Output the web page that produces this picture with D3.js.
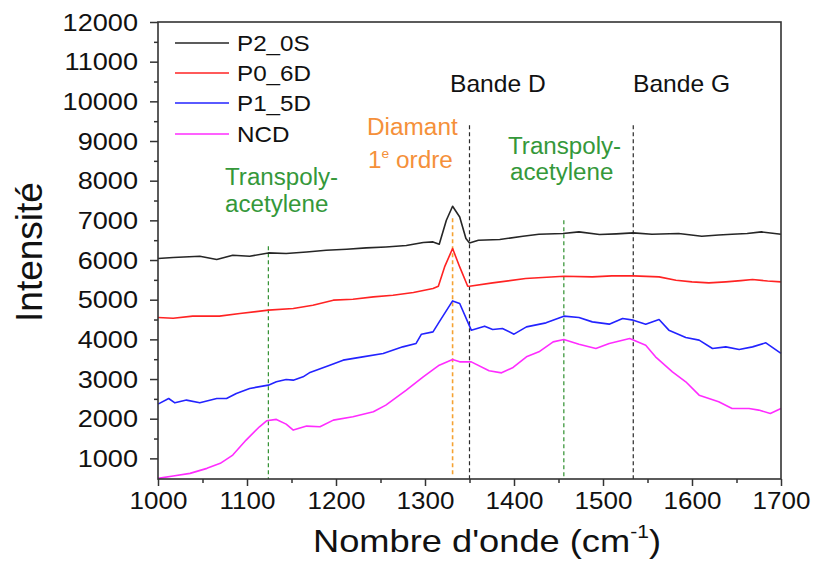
<!DOCTYPE html>
<html>
<head>
<meta charset="utf-8">
<script src="https://cdn.jsdelivr.net/npm/d3@7"></script>
<style>
  html, body { margin: 0; padding: 0; background: #fff; }
  svg { display: block; font-family: "Liberation Sans", Arial, sans-serif; }
</style>
</head>
<body>
<svg id="chart" width="816" height="572"></svg>
<script>
// Raman spectra: wavenumber (cm-1) and intensity for each sample
const p2Wave = [1000,1017,1047,1066,1084,1103,1124,1144,1167,1189,1212,1234,1256,1279,1298,1309,1316,1324,1331,1339,1346,1350,1360,1384,1410,1428,1455,1473,1496,1515,1534,1555,1585,1611,1630,1645,1662,1678,1700];
const p2Int  = [6038,6063,6096,6013,6121,6096,6179,6164,6204,6247,6272,6305,6330,6365,6441,6457,6398,7003,7356,7086,6542,6431,6499,6517,6600,6650,6667,6709,6643,6660,6684,6650,6667,6600,6630,6650,6670,6709,6650];

const p0Wave = [1000,1017,1039,1069,1092,1124,1152,1174,1197,1219,1242,1264,1287,1309,1315,1322,1331,1339,1348,1350,1376,1413,1456,1488,1510,1534,1563,1582,1600,1619,1638,1655,1668,1685,1700];
const p0Int  = [4552,4534,4585,4585,4652,4736,4778,4862,4988,5013,5071,5113,5182,5282,5340,5826,6290,5826,5340,5340,5423,5534,5592,5575,5600,5600,5575,5491,5450,5423,5449,5480,5509,5470,5449];

const p1Wave = [1000,1012,1019,1032,1047,1066,1077,1088,1103,1124,1133,1144,1152,1163,1170,1193,1208,1230,1253,1275,1290,1296,1309,1316,1331,1339,1352,1367,1376,1387,1400,1414,1436,1456,1473,1488,1507,1522,1534,1548,1563,1574,1593,1608,1623,1638,1653,1668,1683,1700];
const p1Int  = [2368,2509,2400,2469,2400,2509,2509,2637,2763,2846,2930,2990,2972,3055,3156,3350,3476,3559,3645,3811,3897,4131,4189,4441,4970,4904,4232,4333,4250,4275,4131,4315,4416,4585,4552,4441,4383,4527,4484,4383,4501,4232,4048,3980,3771,3811,3746,3811,3912,3645];

const ncdWave = [1000,1017,1036,1055,1070,1084,1099,1114,1122,1133,1144,1152,1167,1182,1197,1219,1242,1256,1279,1298,1316,1331,1339,1352,1372,1386,1399,1414,1428,1444,1456,1473,1492,1507,1530,1548,1559,1578,1593,1608,1630,1645,1664,1675,1688,1700];
const ncdInt  = [496,554,622,748,874,1083,1461,1796,1947,1982,1864,1713,1814,1796,1965,2048,2174,2343,2720,3055,3350,3494,3433,3433,3207,3156,3292,3559,3685,3937,3998,3879,3771,3897,4023,3854,3559,3181,2930,2594,2426,2259,2259,2217,2133,2259];

const seriesNames  = ["P2_0S", "P0_6D", "P1_5D", "NCD"];
const seriesColors = ["#262626", "#ff2323", "#2323ff", "#ff2cff"];
const seriesWaves  = [p2Wave, p0Wave, p1Wave, ncdWave];
const seriesInts   = [p2Int, p0Int, p1Int, ncdInt];

const xMajorTicks = [1000,1100,1200,1300,1400,1500,1600,1700];
const xMinorTicks = [1050,1150,1250,1350,1450,1550,1650];
const yMajorTicks = [1000,2000,3000,4000,5000,6000,7000,8000,9000,10000,11000,12000];
const yMinorTicks = [1500,2500,3500,4500,5500,6500,7500,8500,9500,10500,11500];

// Band markers: wavenumber, colour, top of the dashed line (intensity)
const markerWaves  = [1124, 1331, 1350, 1456, 1534];
const markerColors = ["#2f8f2f", "#f5a232", "#2a2a2a", "#2f8f2f", "#2a2a2a"];
const markerTops   = [6350, 7050, 9400, 7000, 9400];

const svg = d3.select("#chart");
const x = d3.scaleLinear().domain([1000, 1700]).range([158, 781]);
const y = d3.scaleLinear().domain([480, 12000]).range([479, 22]);

// dashed marker lines
markerWaves.forEach((w, i) => {
  svg.append("line")
    .attr("x1", x(w)).attr("x2", x(w))
    .attr("y1", y(markerTops[i])).attr("y2", y(i === 1 ? 540 : 480))
    .attr("stroke", markerColors[i])
    .attr("stroke-width", i === 1 ? 1.6 : 1.2)
    .attr("stroke-dasharray", "4,3");
});

// spectra
const line = d3.line().x(d => x(d[0])).y(d => y(d[1]));
seriesNames.forEach((name, i) => {
  const pts = seriesWaves[i].map((w, k) => [w, seriesInts[i][k]]);
  svg.append("path")
    .datum(pts)
    .attr("fill", "none")
    .attr("stroke", seriesColors[i])
    .attr("stroke-width", 1.6)
    .attr("stroke-linejoin", "round")
    .attr("d", line);
});

// frame
svg.append("rect")
  .attr("x", x(1000)).attr("y", y(12000))
  .attr("width", x(1700) - x(1000)).attr("height", y(480) - y(12000))
  .attr("fill", "none").attr("stroke", "#333").attr("stroke-width", 1.6);

// axes
function styleAxis(g) {
  g.select(".domain").remove();
  g.selectAll(".tick line").attr("stroke", "#333").attr("stroke-width", 1.5);
  g.selectAll(".tick text").attr("fill", "#111").attr("font-family", "Liberation Sans, Arial, sans-serif");
}
const xAxis = svg.append("g").attr("transform", `translate(0,${y(480)})`)
  .call(d3.axisBottom(x).tickValues(xMajorTicks).tickSize(7).tickPadding(7).tickFormat(d3.format("d")))
  .call(styleAxis);
xAxis.selectAll(".tick text").attr("font-size", 23);
svg.append("g").attr("transform", `translate(0,${y(480)})`)
  .call(d3.axisBottom(x).tickValues(xMinorTicks).tickSize(4).tickFormat(""))
  .call(styleAxis);

const yAxis = svg.append("g").attr("transform", `translate(${x(1000)},0)`)
  .call(d3.axisLeft(y).tickValues(yMajorTicks).tickSize(8).tickPadding(12).tickFormat(d3.format("d")))
  .call(styleAxis);
yAxis.selectAll(".tick text").attr("font-size", 24).attr("dy", "0.34em");
svg.append("g").attr("transform", `translate(${x(1000)},0)`)
  .call(d3.axisLeft(y).tickValues(yMinorTicks).tickSize(4).tickFormat(""))
  .call(styleAxis);

// widen tick labels slightly
svg.selectAll(".tick text").each(function () {
  const t = d3.select(this);
  if (!t.text()) return;
  t.attr("textLength", this.getComputedTextLength() * 1.13).attr("lengthAdjust", "spacingAndGlyphs");
});

// text helper: horizontally stretched label
function label(px, py, size, color, anchor, sx, build) {
  const g = svg.append("g").attr("transform", `translate(${px},${py}) scale(${sx},1)`);
  const t = g.append("text").attr("font-size", size).attr("fill", color).attr("text-anchor", anchor);
  build(t);
  return t;
}

// axis titles
svg.append("text")
  .attr("transform", "translate(42,252) rotate(-90)")
  .attr("text-anchor", "middle").attr("font-size", 37).attr("fill", "#111")
  .text("Intensité");

label(487, 552, 31, "#111", "middle", 1.17, t => {
  t.append("tspan").text("Nombre d'onde (cm");
  t.append("tspan").attr("font-size", 18).attr("dy", -14).text("-1");
  t.append("tspan").attr("dy", 14).text(")");
});

// legend
seriesNames.forEach((name, i) => {
  const ly = [43, 73, 103, 134][i];
  svg.append("line").attr("x1", 175).attr("x2", 229).attr("y1", ly).attr("y2", ly)
    .attr("stroke", seriesColors[i]).attr("stroke-width", 1.5);
  label(237, ly + 8, 22, "#111", "start", 1.1, t => t.text(name));
});

// annotations
label(225, 185, 23, "#35983a", "start", 1.05, t => t.text("Transpoly-"));
label(225, 212, 23, "#35983a", "start", 1.05, t => t.text("acetylene"));
label(508, 154, 23, "#35983a", "start", 1.05, t => t.text("Transpoly-"));
label(510, 180, 23, "#35983a", "start", 1.05, t => t.text("acetylene"));
label(450, 92, 23, "#111", "start", 1.07, t => t.text("Bande D"));
label(633, 92, 23, "#111", "start", 1.07, t => t.text("Bande G"));
label(367, 135, 23, "#f5903a", "start", 1.06, t => t.text("Diamant"));
label(368, 168, 23, "#f5903a", "start", 1.06, t => {
  t.append("tspan").text("1");
  t.append("tspan").attr("font-size", 13).attr("dy", -10).text("e");
  t.append("tspan").attr("dy", 10).text(" ordre");
});
</script>
</body>
</html>
